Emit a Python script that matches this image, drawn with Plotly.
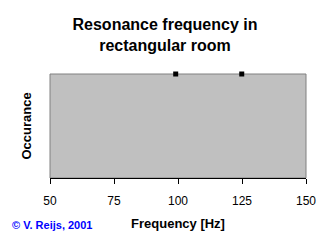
import plotly.graph_objects as go

freqs = [99.1, 124.9]
occurrence = [1, 1]
x_ticks = [50, 75, 100, 125, 150]

fig = go.Figure()
fig.add_trace(go.Scatter(
    x=freqs, y=occurrence, mode="markers",
    marker=dict(symbol="square", size=5, color="black"),
    cliponaxis=False, showlegend=False,
))

fig.update_layout(
    width=332, height=248,
    margin=dict(l=50, r=26, t=74, b=70),
    paper_bgcolor="white",
    plot_bgcolor="#C0C0C0",
    font=dict(family="Arial, Liberation Sans, sans-serif", color="black"),
    title=dict(
        text="<b>Resonance frequency in<br>rectangular room</b>",
        x=0.497, xanchor="center", y=0.878, yanchor="middle",
        font=dict(size=16, color="black"),
    ),
    xaxis=dict(
        range=[50, 150], tickvals=x_ticks, ticktext=[str(v) for v in x_ticks],
        showgrid=False, zeroline=False, showline=True, linecolor="black", linewidth=1,
        ticks="outside", ticklen=5, tickcolor="black", ticklabelstandoff=7,
        tickfont=dict(size=12, color="black"),
        title=dict(text="<b>Frequency [Hz]</b>", font=dict(size=13, color="black"), standoff=11),
        mirror=False,
    ),
    yaxis=dict(
        range=[0, 1], showticklabels=False, showgrid=False, zeroline=False,
        showline=False, ticks="",
        title=dict(text="<b>Occurance</b>", font=dict(size=13, color="black"), standoff=14),
    ),
    shapes=[dict(type="rect", xref="paper", yref="paper", x0=0, y0=0, x1=1, y1=1,
                 line=dict(color="#808080", width=1), layer="below")],
    annotations=[dict(
        text="<b>© V. Reijs, 2001</b>", xref="paper", yref="paper",
        x=-0.156, y=-0.452, xanchor="left", yanchor="middle", showarrow=False,
        font=dict(size=11, color="#0000FF"),
    )],
)

fig.write_html("out.html")
